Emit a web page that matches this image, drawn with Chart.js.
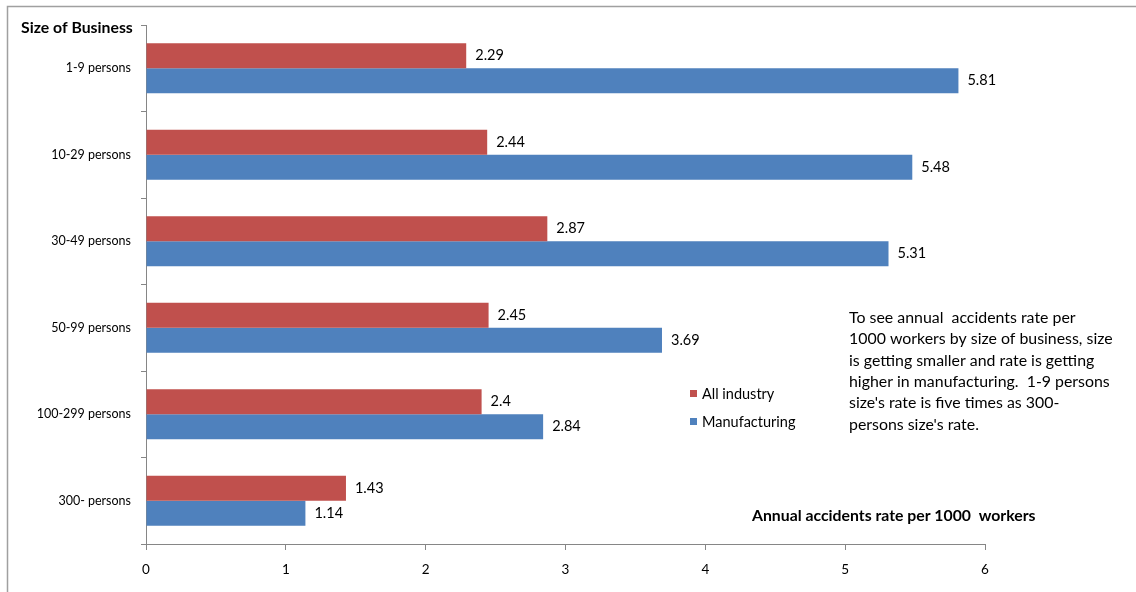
<!DOCTYPE html>
<html>
<head>
<meta charset="utf-8">
<script src="https://cdn.jsdelivr.net/npm/chart.js@4.4.1/dist/chart.umd.min.js"></script>
<style>
  html, body { margin: 0; padding: 0; background: #fff; }
  #wrap { position: relative; width: 1136px; height: 592px; }
  canvas { display: block; }
</style>
</head>
<body>
<div id="wrap"><canvas id="c" width="1136" height="592"></canvas></div>
<script>
// Business size groups, top to bottom
const categories = ['1-9 persons', '10-29 persons', '30-49 persons', '50-99 persons', '100-299 persons', '300- persons'];
// Annual accidents per 1000 workers
const allIndustry = [2.29, 2.44, 2.87, 2.45, 2.4, 1.43];
const manufacturing = [5.81, 5.48, 5.31, 3.69, 2.84, 1.14];
const seriesNames = ['All industry', 'Manufacturing'];
const seriesColors = ['#C0504D', '#4F81BD'];
const xTicks = [0, 1, 2, 3, 4, 5, 6];
const yTitle = 'Size of Business';
const xTitle = 'Annual accidents rate per 1000  workers';
const noteLines = [
  'To see annual  accidents rate per',
  '1000 workers by size of business, size',
  'is getting smaller and rate is getting',
  'higher in manufacturing.  1-9 persons',
  "size's rate is five times as 300-",
  "persons size's rate."
];

const FONT = 'Lato, "Open Sans", sans-serif';
const AXIS = '#868686';

const decorations = {
  id: 'decorations',
  afterDatasetsDraw(chart) {
    const ctx = chart.ctx;
    ctx.save();
    // frame (top and left edges)
    ctx.strokeStyle = '#A0A0A0';
    ctx.lineWidth = 1.5;
    ctx.beginPath();
    ctx.moveTo(7.5, 592);
    ctx.lineTo(7.5, 6.5);
    ctx.lineTo(1136, 6.5);
    ctx.stroke();

    // value labels at bar ends
    ctx.fillStyle = '#000';
    ctx.font = '14.5px ' + FONT;
    ctx.textBaseline = 'middle';
    ctx.textAlign = 'left';
    chart.data.datasets.forEach((ds, di) => {
      const meta = chart.getDatasetMeta(di);
      meta.data.forEach((bar, i) => {
        ctx.fillText(String(ds.data[i]), bar.x + 9, bar.y);
      });
    });

    // axis titles
    ctx.font = 'bold 15.8px ' + FONT;
    ctx.textAlign = 'left';
    ctx.fillText(yTitle, 21, 28);
    ctx.fillText(xTitle, 752, 516);

    // legend
    ctx.font = '14.5px ' + FONT;
    chart.data.datasets.forEach((ds, di) => {
      const y = 394 + di * 28;
      ctx.fillStyle = ds.backgroundColor;
      ctx.fillRect(690, y - 4, 7, 7);
      ctx.fillStyle = '#000';
      ctx.fillText(ds.label, 702, y);
    });

    // explanatory note
    ctx.font = '15.9px ' + FONT;
    noteLines.forEach((line, i) => {
      ctx.fillText(line, 849, 318 + i * 21.3);
    });
    ctx.restore();
  }
};

new Chart(document.getElementById('c'), {
  type: 'bar',
  data: {
    labels: categories,
    datasets: [
      { label: seriesNames[0], data: allIndustry, backgroundColor: seriesColors[0] },
      { label: seriesNames[1], data: manufacturing, backgroundColor: seriesColors[1] }
    ]
  },
  options: {
    indexAxis: 'y',
    responsive: false,
    animation: false,
    devicePixelRatio: 1,
    layout: { padding: { top: 25, right: 151, left: 0, bottom: 0 } },
    datasets: { bar: { categoryPercentage: 0.58, barPercentage: 1.0 } },
    plugins: { legend: { display: false }, tooltip: { enabled: false } },
    scales: {
      x: {
        min: 0, max: 6,
        afterBuildTicks(scale) { scale.ticks = xTicks.map(v => ({ value: v })); },
        afterFit(scale) { scale.height = 48; },
        grid: { drawOnChartArea: false, color: AXIS, tickLength: 6, lineWidth: 1 },
        border: { color: AXIS, width: 1 },
        ticks: { color: '#000', font: { family: FONT, size: 13.5 }, padding: 12 }
      },
      y: {
        afterFit(scale) { scale.width = 146; },
        grid: { drawOnChartArea: false, color: AXIS, tickLength: 5, offset: true },
        border: { color: AXIS, width: 1 },
        ticks: { color: '#000', font: { family: FONT, size: 12.5 }, padding: 10 }
      }
    }
  },
  plugins: [decorations]
});
</script>
</body>
</html>
